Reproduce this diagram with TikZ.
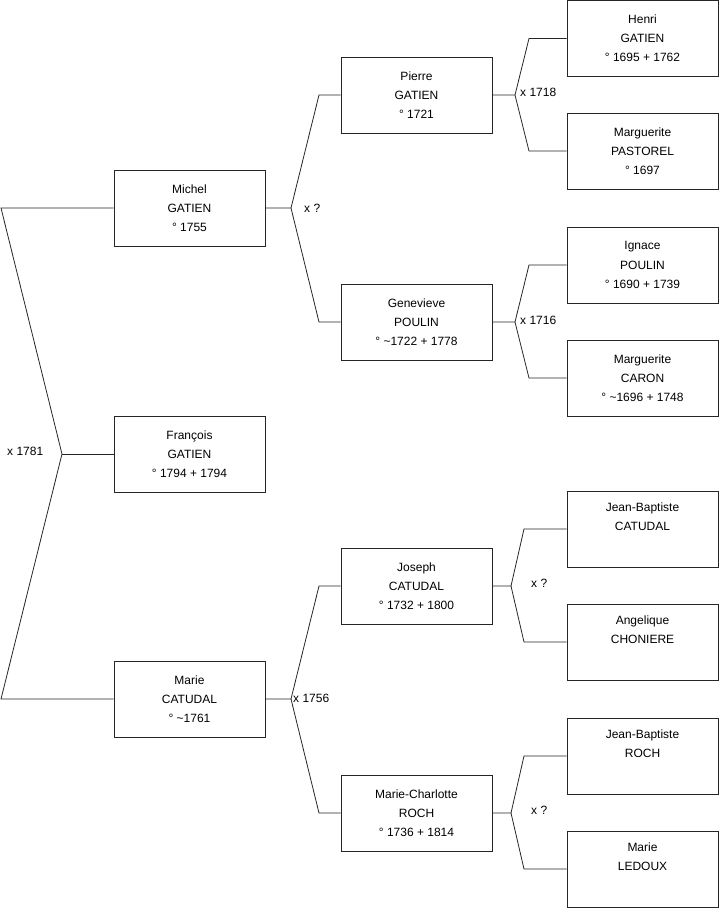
\documentclass[tikz,border=0pt]{standalone}
\usepackage{fontspec}
\setmainfont{Liberation Sans}
\begin{document}
\begin{tikzpicture}[x=1pt,y=-1pt,
  person/.style={draw=black!85,line width=0.8pt,minimum width=151pt,minimum height=76pt,inner sep=0pt,align=center,font=\fontsize{12}{19.2}\selectfont},
  link/.style={draw=black!85,line width=0.8pt},
  wed/.style={anchor=west,inner sep=0pt,font=\fontsize{12}{14}\selectfont}]
\useasboundingbox (0,0) rectangle (719,908);
% column 1
\node[person] (michel) at (189.5,208) {Michel\\GATIEN\\° 1755};
\node[person] (francois) at (189.5,454) {François\\GATIEN\\° 1794 + 1794};
\node[person] (marie) at (189.5,699) {Marie\\CATUDAL\\° \textasciitilde1761};
% column 2
\node[person] (pierre) at (416.5,95) {Pierre\\GATIEN\\° 1721};
\node[person] (genevieve) at (416.5,322) {Genevieve\\POULIN\\° \textasciitilde1722 + 1778};
\node[person] (joseph) at (416.5,586) {Joseph\\CATUDAL\\° 1732 + 1800};
\node[person] (mcharlotte) at (416.5,813) {Marie-Charlotte\\ROCH\\° 1736 + 1814};
% column 3
\node[person] (henri) at (642.5,38.5) {Henri\\GATIEN\\° 1695 + 1762};
\node[person] (margp) at (642.5,151) {Marguerite\\PASTOREL\\° 1697};
\node[person] (ignace) at (642.5,265) {Ignace\\POULIN\\° 1690 + 1739};
\node[person] (margc) at (642.5,378) {Marguerite\\CARON\\° \textasciitilde1696 + 1748};
\node[person] (jbc) at (642.5,529) {Jean-Baptiste\\CATUDAL\\\strut};
\node[person] (angel) at (642.5,642) {Angelique\\CHONIERE\\\strut};
\node[person] (jbr) at (642.5,756) {Jean-Baptiste\\ROCH\\\strut};
\node[person] (ledoux) at (642.5,869) {Marie\\LEDOUX\\\strut};
% root fork
\coordinate (r1) at (1,208);
\coordinate (r2) at (1,699);
\coordinate (rf) at (62,454);
\draw[link] (michel.west) -- (r1) -- (rf) -- (r2) -- (marie.west);
\draw[link] (rf) -- (francois.west);
\node[wed] (w0) at (7,451) {x 1781};
% Michel fork
\coordinate (fm) at (291,208);
\draw[link] (michel.east) -- (fm) -- (319,95) -- (pierre.west);
\draw[link] (fm) -- (319,322) -- (genevieve.west);
\node[wed] (w1) at (304,208) {x ?};
% Marie fork
\coordinate (fma) at (291,699);
\draw[link] (marie.east) -- (fma) -- (319,586) -- (joseph.west);
\draw[link] (fma) -- (319,813) -- (mcharlotte.west);
\node[wed] (w2) at (293,698) {x 1756};
% Pierre fork
\coordinate (fp) at (515,95);
\draw[link] (pierre.east) -- (fp) -- (529,38.5) -- (henri.west);
\draw[link] (fp) -- (529,151) -- (margp.west);
\node[wed] (w3) at (520,92) {x 1718};
% Genevieve fork
\coordinate (fg) at (515,322);
\draw[link] (genevieve.east) -- (fg) -- (529,265) -- (ignace.west);
\draw[link] (fg) -- (529,378) -- (margc.west);
\node[wed] (w4) at (520,320) {x 1716};
% Joseph fork
\coordinate (fj) at (511,586);
\draw[link] (joseph.east) -- (fj) -- (524,529) -- (jbc.west);
\draw[link] (fj) -- (524,642) -- (angel.west);
\node[wed] (w5) at (531,583) {x ?};
% Marie-Charlotte fork
\coordinate (fc) at (511,813);
\draw[link] (mcharlotte.east) -- (fc) -- (524,756) -- (jbr.west);
\draw[link] (fc) -- (524,869) -- (ledoux.west);
\node[wed] (w6) at (531,810) {x ?};
\end{tikzpicture}
\end{document}
